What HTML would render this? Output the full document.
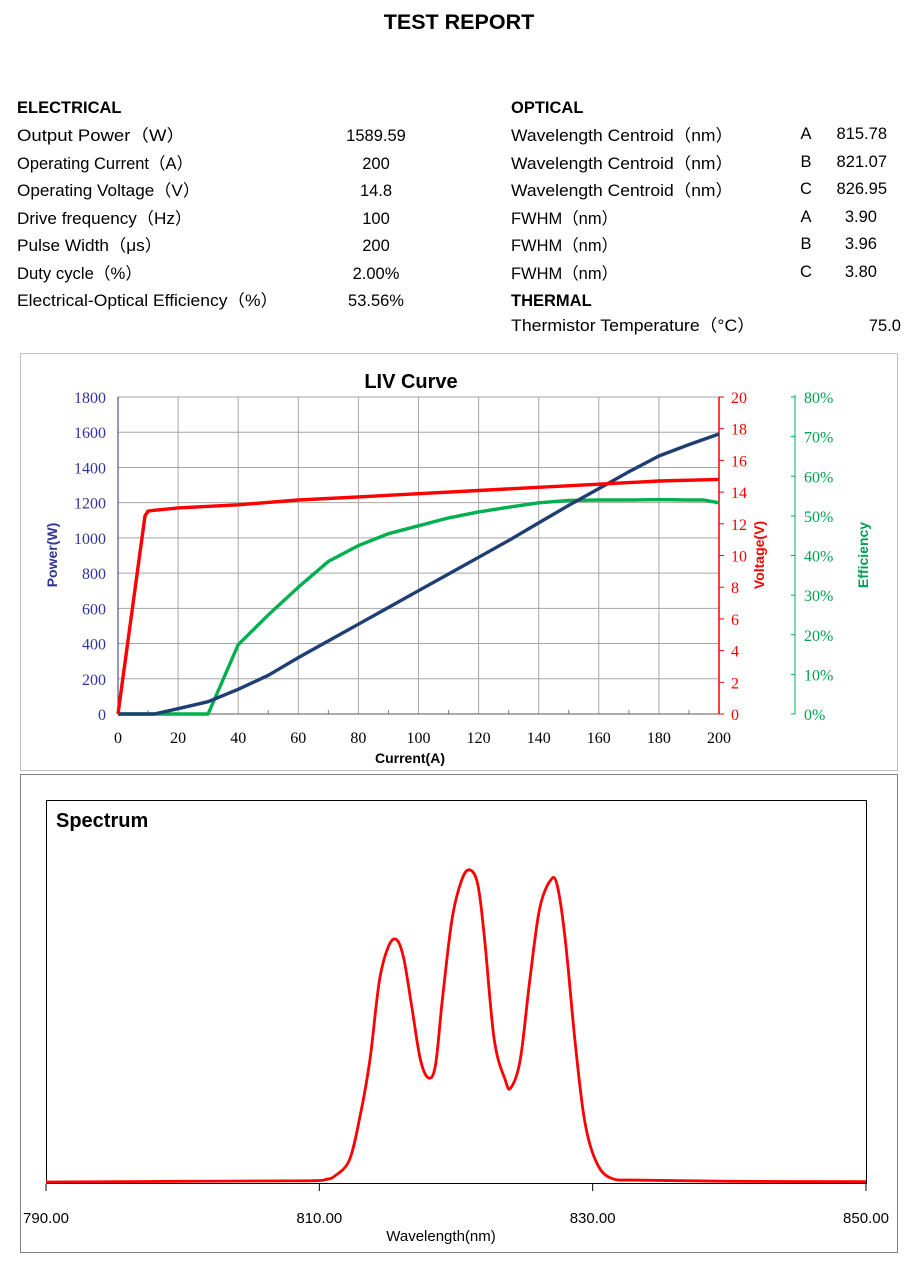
<!DOCTYPE html>
<html><head><meta charset="utf-8">
<style>
html,body{margin:0;padding:0;background:#fff;}
svg{display:block;font-family:"Liberation Sans","Noto Sans CJK SC",sans-serif;}
.t{font-size:16.5px;fill:#000;}
.b{font-size:16.5px;font-weight:bold;fill:#000;}
</style></head>
<body>
<svg id="root" width="919" height="1269" viewBox="0 0 919 1269">
<text x="459" y="29" text-anchor="middle" style="font-size:21.5px;font-weight:bold">TEST REPORT</text>
<g>
<text class="b" x="17" y="113">ELECTRICAL</text>
<text class="t" x="17" y="141" textLength="168" lengthAdjust="spacingAndGlyphs">Output Power（W）</text>
<text class="t" x="376" y="141" text-anchor="middle">1589.59</text>
<text class="t" x="17" y="169" textLength="176" lengthAdjust="spacingAndGlyphs">Operating Current（A）</text>
<text class="t" x="376" y="169" text-anchor="middle">200</text>
<text class="t" x="17" y="196" textLength="183" lengthAdjust="spacingAndGlyphs">Operating Voltage（V）</text>
<text class="t" x="376" y="196" text-anchor="middle">14.8</text>
<text class="t" x="17" y="224" textLength="175" lengthAdjust="spacingAndGlyphs">Drive frequency（Hz）</text>
<text class="t" x="376" y="224" text-anchor="middle">100</text>
<text class="t" x="17" y="251" textLength="145" lengthAdjust="spacingAndGlyphs">Pulse Width（μs）</text>
<text class="t" x="376" y="251" text-anchor="middle">200</text>
<text class="t" x="17" y="279" textLength="125" lengthAdjust="spacingAndGlyphs">Duty cycle（%）</text>
<text class="t" x="376" y="279" text-anchor="middle">2.00%</text>
<text class="t" x="17" y="306" textLength="261" lengthAdjust="spacingAndGlyphs">Electrical-Optical Efficiency（%）</text>
<text class="t" x="376" y="306" text-anchor="middle">53.56%</text>
</g>
<g>
<text class="b" x="511" y="113">OPTICAL</text>
<text class="t" x="511" y="141" textLength="222" lengthAdjust="spacingAndGlyphs">Wavelength Centroid（nm）</text>
<text class="t" x="806" y="139" text-anchor="middle">A</text>
<text class="t" x="887" y="139" text-anchor="end">815.78</text>
<text class="t" x="511" y="169" textLength="222" lengthAdjust="spacingAndGlyphs">Wavelength Centroid（nm）</text>
<text class="t" x="806" y="167" text-anchor="middle">B</text>
<text class="t" x="887" y="167" text-anchor="end">821.07</text>
<text class="t" x="511" y="196" textLength="222" lengthAdjust="spacingAndGlyphs">Wavelength Centroid（nm）</text>
<text class="t" x="806" y="194" text-anchor="middle">C</text>
<text class="t" x="887" y="194" text-anchor="end">826.95</text>
<text class="t" x="511" y="224" textLength="107" lengthAdjust="spacingAndGlyphs">FWHM（nm）</text>
<text class="t" x="806" y="222" text-anchor="middle">A</text>
<text class="t" x="877" y="222" text-anchor="end">3.90</text>
<text class="t" x="511" y="251" textLength="107" lengthAdjust="spacingAndGlyphs">FWHM（nm）</text>
<text class="t" x="806" y="249" text-anchor="middle">B</text>
<text class="t" x="877" y="249" text-anchor="end">3.96</text>
<text class="t" x="511" y="279" textLength="107" lengthAdjust="spacingAndGlyphs">FWHM（nm）</text>
<text class="t" x="806" y="277" text-anchor="middle">C</text>
<text class="t" x="877" y="277" text-anchor="end">3.80</text>
<text class="b" x="511" y="306">THERMAL</text>
<text class="t" x="511" y="331" textLength="244" lengthAdjust="spacingAndGlyphs">Thermistor Temperature（°C）</text>
<text class="t" x="901" y="331" text-anchor="end">75.0</text>
</g>

<g id="liv">
<rect x="20.5" y="353.5" width="877" height="417" fill="#fff" stroke="#bfbfbf"/>
<text x="411" y="388" text-anchor="middle" style="font-size:20px;font-weight:bold">LIV Curve</text>
</g>
<g id="spec">
<rect x="20.5" y="774.5" width="877" height="478" fill="#fff" stroke="#7f7f7f"/>
<rect x="46.5" y="800.5" width="820" height="383" fill="none" stroke="#000"/>
<text x="56" y="827" style="font-size:20px;font-weight:bold">Spectrum</text>
<text x="441" y="1241" text-anchor="middle" style="font-size:15px">Wavelength(nm)</text>
</g>
</svg>
<script>
// LIV data
const livCurrent = [0,10,12,20,30,40,50,60,70,80,90,100,110,120,130,140,150,160,170,180,190,200];
const livPower = [0,0,0,30,70,140,220,320,415,510,605,700,795,890,985,1085,1185,1280,1375,1465,1530,1590];
const voltCurrent = [0,9,10,12,20,40,60,80,100,120,140,160,180,200];
const voltValues = [0,12.5,12.8,12.85,13.0,13.2,13.5,13.7,13.9,14.1,14.3,14.5,14.7,14.8];
const effCurrent = [0,10,20,30,40,50,60,70,80,90,100,110,120,130,140,150,160,170,180,190,195,200];
const effValues = [0,0,0,0,17.5,25,32,38.5,42.5,45.5,47.5,49.5,51,52.2,53.3,53.9,54,54,54.1,54,54,53.3];
const currentTicks = [0,20,40,60,80,100,120,140,160,180,200];
const powerTicks = [0,200,400,600,800,1000,1200,1400,1600,1800];
const voltTicks = [0,2,4,6,8,10,12,14,16,18,20];
const effTicks = [0,10,20,30,40,50,60,70,80];
// Spectrum data
const specWl = [790,800,808,810,810.5,811.1,812.2,813,813.7,814.4,815.1,815.7,816.2,816.8,817.4,818,818.5,819,819.7,820.4,821,821.6,822.1,822.8,823.6,824,824.7,825.4,826.1,826.9,827.4,828,828.7,829.4,830.2,831.3,833.5,840,850];
const specInt = [0.005,0.007,0.008,0.009,0.012,0.02,0.0625,0.18,0.323,0.531,0.622,0.635,0.583,0.453,0.323,0.276,0.31,0.479,0.6875,0.79,0.818,0.779,0.635,0.375,0.271,0.25,0.323,0.531,0.714,0.79,0.779,0.635,0.375,0.167,0.0625,0.016,0.01,0.007,0.006];
const wlTicks = [790,810,830,850];

const NS='http://www.w3.org/2000/svg';
function mk(parent,tag,attrs,txt){const e=document.createElementNS(NS,tag);for(const k in attrs)e.setAttribute(k,attrs[k]);if(txt!==undefined)e.textContent=txt;parent.appendChild(e);return e;}

const liv=document.getElementById('liv');
const X0=118,X1=719,Y0=714,Y1=397;
const xI=c=>X0+(c/200)*(X1-X0);
const yP=p=>Y0-(p/1800)*(Y0-Y1);
const yV=v=>Y0-(v/20)*(Y0-Y1);
const yE=e=>Y0-(e/80)*(Y0-Y1);
const serif='font-family:"Liberation Serif",serif;font-size:16px';
for(const t of currentTicks){
  const g=mk(liv,'line',{x1:xI(t),x2:xI(t),y1:Y1,y2:Y0,stroke:'#a6a6a6','stroke-width':1});
  
  
  const l=mk(liv,'text',{x:xI(t),y:743,'text-anchor':'middle',style:serif,fill:'#000'},String(t));
  
  
}
for(let i=1;i<20;i+=2){const t=i*10;const m=mk(liv,'line',{x1:xI(t),x2:xI(t),y1:Y0,y2:Y0-4,stroke:'#7f7f7f'});
  
  }
for(const t of powerTicks){
  const g=mk(liv,'line',{x1:X0,x2:X1,y1:yP(t),y2:yP(t),stroke:'#a6a6a6','stroke-width':1});
  
  
  const l=mk(liv,'text',{x:106,y:yP(t)+6,'text-anchor':'end',style:serif,fill:'#333399'},String(t));
  
  
}
let a=mk(liv,'line',{x1:X0,x2:X0,y1:Y1,y2:Y0,stroke:'#1f3864'});


a=mk(liv,'line',{x1:X0,x2:X1,y1:Y0,y2:Y0,stroke:'#595959'});


a=mk(liv,'line',{x1:X1,x2:X1,y1:Y1,y2:Y0,stroke:'#ff0000','stroke-width':1.5});


for(const t of voltTicks){
  const k=mk(liv,'line',{x1:X1,x2:X1+5,y1:yV(t),y2:yV(t),stroke:'#ff0000'});
  
  
  const l=mk(liv,'text',{x:731,y:yV(t)+6,style:serif,fill:'#ff0000'},String(t));
  
  
}
const EX=795;
a=mk(liv,'line',{x1:EX,x2:EX,y1:Y1-2,y2:Y0,stroke:'#00b050'});


for(const t of effTicks){
  const k=mk(liv,'line',{x1:EX,x2:EX-4,y1:yE(t),y2:yE(t),stroke:'#00b050'});
  
  
  const l=mk(liv,'text',{x:804,y:yE(t)+6,style:serif,fill:'#00a050'},t+'%');
  
  
}
function poly(xs,ys,fx,fy){return xs.map((x,i)=>fx(x).toFixed(1)+','+fy(ys[i]).toFixed(1)).join(' ');}
let s=mk(liv,'polyline',{points:poly(effCurrent,effValues,xI,yE),fill:'none',stroke:'#00b050','stroke-width':3.4,'stroke-linejoin':'round'});


s=mk(liv,'polyline',{points:poly(livCurrent,livPower,xI,yP),fill:'none',stroke:'#1f3f73','stroke-width':3.4,'stroke-linejoin':'round'});


s=mk(liv,'polyline',{points:poly(voltCurrent,voltValues,xI,yV),fill:'none',stroke:'#ff0000','stroke-width':3.4,'stroke-linejoin':'round'});


let t=mk(liv,'text',{x:410,y:763,'text-anchor':'middle',style:'font-size:14px;font-weight:bold'},'Current(A)');


t=mk(liv,'text',{transform:'translate(57,555) rotate(-90)','text-anchor':'middle',style:'font-size:14px;font-weight:bold',fill:'#333399'},'Power(W)');


t=mk(liv,'text',{transform:'translate(764,555) rotate(-90)','text-anchor':'middle',style:'font-size:14px;font-weight:bold',fill:'#ff0000'},'Voltage(V)');


t=mk(liv,'text',{transform:'translate(868,555) rotate(-90)','text-anchor':'middle',style:'font-size:14px;font-weight:bold',fill:'#00a050'},'Efficiency');



// Spectrum
const sp=document.getElementById('spec');
const SX0=46,SX1=866,SY0=1184,SY1=800;
const xW=w=>SX0+(w-790)/60*(SX1-SX0);
const yS=v=>SY0-v*(SY0-SY1);
for(const w of wlTicks){
  const k=mk(sp,'line',{x1:xW(w),x2:xW(w),y1:SY0,y2:SY0+7,stroke:'#000'});
  
  
  const l=mk(sp,'text',{x:xW(w),y:1223,'text-anchor':'middle',style:'font-size:15px'},w.toFixed(2));
  
  
}
const pts=specWl.map((w,i)=>[xW(w),yS(specInt[i])]);
let d='M'+pts[0][0]+','+pts[0][1];
for(let i=0;i<pts.length-1;i++){
  const p0=pts[Math.max(0,i-1)],p1=pts[i],p2=pts[i+1],p3=pts[Math.min(pts.length-1,i+2)];
  const c1=[p1[0]+(p2[0]-p0[0])/6,p1[1]+(p2[1]-p0[1])/6];
  const c2=[p2[0]-(p3[0]-p1[0])/6,p2[1]-(p3[1]-p1[1])/6];
  d+=' C'+c1[0].toFixed(1)+','+c1[1].toFixed(1)+' '+c2[0].toFixed(1)+','+c2[1].toFixed(1)+' '+p2[0].toFixed(1)+','+p2[1].toFixed(1);
}
s=mk(sp,'path',{d:d,fill:'none',stroke:'#ff0000','stroke-width':2.8,'stroke-linejoin':'round'});


</script>
</body></html>
